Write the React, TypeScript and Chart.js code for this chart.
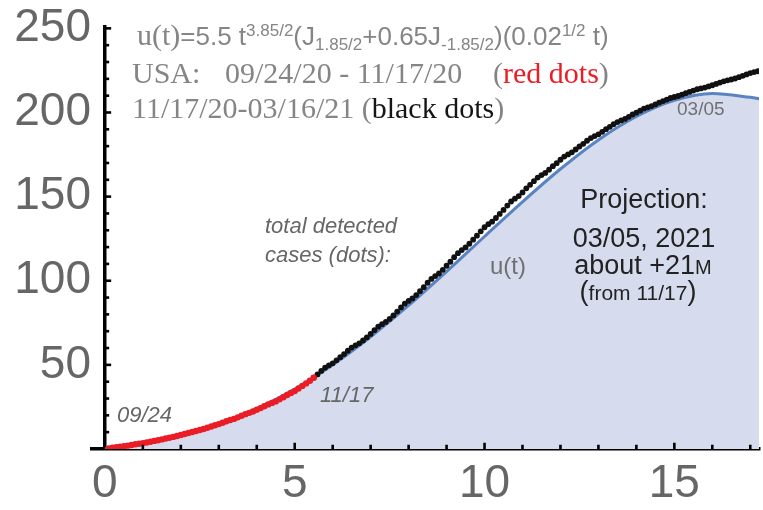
import { useEffect, useRef } from 'react';
import { Chart, registerables } from 'chart.js';

Chart.register(...registerables);

// ---- data ----
const uT = [0, 0.5, 1, 1.5, 2, 3, 4, 5, 6, 7, 8, 9, 10, 11, 12, 13, 14, 15, 16, 17, 17.3];
const uValues = [0, 1.7, 3.5, 5.7, 8.3, 14.9, 24.0, 35.7, 50.0, 66.7, 85.3, 105.4, 126.3, 146.9, 166.4, 183.7, 197.6, 207.2, 211.3, 209.0, 208.0];

// total detected cases (units of 100k, relative to 09/24/20), one per day
const redCases = [
  0.3, 0.7, 1.0, 1.3, 1.6, 2.0, 2.4, 2.8, 3.1, 3.5,
  3.9, 4.3, 4.8, 5.2, 5.7, 6.2, 6.7, 7.2, 7.7, 8.3,
  8.9, 9.5, 10.1, 10.7, 11.3, 11.9, 12.6, 13.4, 14.1, 14.8,
  15.6, 16.5, 17.2, 17.9, 18.8, 19.8, 20.7, 21.5, 22.3, 23.3,
  24.3, 25.4, 26.5, 27.4, 28.3, 29.5, 30.8, 32.1, 33.3, 34.4,
  36.0, 37.5, 39.0, 40.6, 42.4,
];
const blackCases = [
  42.4,
  44.3, 46.4, 48.3, 49.7, 50.9, 52.7, 54.6,
  56.4, 58.4, 60.3, 61.6, 62.8, 64.5, 66.3,
  68.4, 70.6, 72.7, 74.2, 75.5, 77.3, 79.4,
  81.7, 84.1, 86.4, 88.0, 89.5, 91.5, 93.8,
  96.2, 98.8, 101.1, 102.8, 104.3, 106.5, 108.9,
  111.3, 114.0, 116.4, 118.2, 119.8, 122.0, 124.4,
  126.8, 129.4, 131.8, 133.6, 135.1, 137.3, 139.7,
  142.1, 144.7, 147.1, 148.8, 150.3, 152.5, 154.9,
  157.0, 159.2, 161.3, 162.8, 164.1, 166.0, 168.1,
  169.9, 171.9, 173.8, 175.1, 176.3, 178.0, 179.8,
  181.4, 183.2, 184.8, 186.0, 187.0, 188.5, 190.1,
  191.5, 193.0, 194.3, 195.3, 196.2, 197.4, 198.8,
  199.9, 201.1, 202.3, 203.1, 203.8, 204.8, 205.9,
  206.8, 207.7, 208.6, 209.2, 209.8, 210.6, 211.5,
  212.2, 213.0, 213.8, 214.3, 214.8, 215.5, 216.2,
  217.0, 217.8, 218.5, 219.1, 219.6, 220.2, 221.0,
  221.8, 222.6, 223.4, 224.0, 224.5, 225.2, 226.0,
];
const RED_START_DAY = 0;
const BLACK_START_DAY = 54;
const DAYS_PER_UNIT = 10;
const FIRST_DAY_T = 0.1;

const xTickValues = [0, 5, 10, 15];
const xMinorValues = [1, 2, 3, 4, 6, 7, 8, 9, 11, 12, 13, 14, 16, 17];
const yTickValues = [50, 100, 150, 200, 250];
const yMinorValues = [10, 20, 30, 40, 60, 70, 80, 90, 110, 120, 130, 140, 160, 170, 180, 190, 210, 220, 230, 240];

const X_MIN = -0.34;
const X_MAX = 17.23;
const Y_MAX = 252;

// ---- styles ----
const SANS = '"Liberation Sans", Arial, sans-serif';
const SERIF = '"Liberation Serif", "Times New Roman", serif';
const AXIS_W = 3.5;
const GRAY_HEAD = '#858585';
const GRAY_LBL = '#666666';
const RED = '#ea1d26';

const toPoints = (vals: number[], startDay: number) =>
  vals.map((v, i) => ({ x: (startDay + i) / DAYS_PER_UNIT + FIRST_DAY_T, y: v }));

type Run = { t: string; font: string; color: string; dy?: number };

function drawRuns(ctx: CanvasRenderingContext2D, x: number, y: number, runs: Run[], align: 'left' | 'center' = 'left') {
  ctx.textAlign = 'left';
  ctx.textBaseline = 'alphabetic';
  let total = 0;
  for (const r of runs) { ctx.font = r.font; total += ctx.measureText(r.t).width; }
  let cx = align === 'center' ? x - total / 2 : x;
  for (const r of runs) {
    ctx.font = r.font;
    ctx.fillStyle = r.color;
    ctx.fillText(r.t, cx, y + (r.dy || 0));
    cx += ctx.measureText(r.t).width;
  }
}

const ticksPlugin = {
  id: 'inwardTicks',
  afterDraw(chart: any) {
    const { ctx, scales } = chart;
    const xs = scales.x, ys = scales.y;
    const x0 = xs.getPixelForValue(0);
    const y0 = ys.getPixelForValue(0);
    ctx.save();
    ctx.strokeStyle = '#000';
    ctx.lineWidth = 2.6;
    const xt = (v: number, len: number) => {
      const p = xs.getPixelForValue(v);
      ctx.beginPath(); ctx.moveTo(p, y0); ctx.lineTo(p, y0 - AXIS_W / 2 - len); ctx.stroke();
    };
    const yt = (v: number, len: number) => {
      const p = ys.getPixelForValue(v);
      ctx.beginPath(); ctx.moveTo(x0, p); ctx.lineTo(x0 + AXIS_W / 2 + len, p); ctx.stroke();
    };
    xMinorValues.forEach(v => xt(v, 2.5));
    xTickValues.filter(v => v !== 0).forEach(v => xt(v, 4.5));
    yMinorValues.forEach(v => yt(v, 2.5));
    yTickValues.forEach(v => yt(v, 4.5));
    ctx.restore();
  },
};

const textPlugin = {
  id: 'annotations',
  afterDraw(chart: any) {
    const ctx: CanvasRenderingContext2D = chart.ctx;
    ctx.save();
    const s26 = `26px ${SANS}`;
    const s17 = `17px ${SANS}`;
    drawRuns(ctx, 137, 45, [
      { t: 'u(t)', font: `30px ${SERIF}`, color: GRAY_HEAD },
      { t: '=5.5 t', font: s26, color: GRAY_HEAD },
      { t: '3.85/2', font: s17, color: GRAY_HEAD, dy: -9 },
      { t: '(J', font: s26, color: GRAY_HEAD },
      { t: '1.85/2', font: s17, color: GRAY_HEAD, dy: 5 },
      { t: '+0.65J', font: s26, color: GRAY_HEAD },
      { t: '-1.85/2', font: s17, color: GRAY_HEAD, dy: 5 },
      { t: ')(0.02', font: s26, color: GRAY_HEAD },
      { t: '1/2', font: s17, color: GRAY_HEAD, dy: -9 },
      { t: ' t)', font: s26, color: GRAY_HEAD },
    ]);
    const serif = `30px ${SERIF}`;
    drawRuns(ctx, 132, 83, [{ t: 'USA:', font: serif, color: GRAY_HEAD }]);
    drawRuns(ctx, 225, 83, [{ t: '09/24/20 - 11/17/20', font: serif, color: GRAY_HEAD }]);
    drawRuns(ctx, 493, 83, [
      { t: '(', font: serif, color: GRAY_HEAD },
      { t: 'red dots', font: serif, color: RED },
      { t: ')', font: serif, color: GRAY_HEAD },
    ]);
    drawRuns(ctx, 132, 118, [
      { t: '11/17/20-03/16/21 (', font: serif, color: GRAY_HEAD },
      { t: 'black dots', font: serif, color: '#151515' },
      { t: ')', font: serif, color: GRAY_HEAD },
    ]);

    const it = `italic 22px ${SANS}`;
    drawRuns(ctx, 117, 422, [{ t: '09/24', font: it, color: GRAY_LBL }]);
    drawRuns(ctx, 320, 402, [{ t: '11/17', font: it, color: GRAY_LBL }]);
    drawRuns(ctx, 265, 233, [{ t: 'total detected', font: it, color: GRAY_LBL }]);
    drawRuns(ctx, 265, 262, [{ t: 'cases (dots):', font: it, color: GRAY_LBL }]);
    drawRuns(ctx, 490, 274, [{ t: 'u(t)', font: `24px ${SANS}`, color: '#707070' }]);
    drawRuns(ctx, 677, 115, [{ t: '03/05', font: `19px ${SANS}`, color: '#707070' }]);

    const dark = '#222222';
    const p27 = `27px ${SANS}`;
    drawRuns(ctx, 644, 208, [{ t: 'Projection:', font: p27, color: dark }], 'center');
    drawRuns(ctx, 644, 247, [{ t: '03/05, 2021', font: p27, color: dark }], 'center');
    drawRuns(ctx, 643, 274, [
      { t: 'about +21', font: p27, color: dark },
      { t: 'M', font: `20px ${SANS}`, color: dark },
    ], 'center');
    drawRuns(ctx, 638, 300, [
      { t: '(', font: p27, color: dark },
      { t: 'from 11/17', font: `21px ${SANS}`, color: dark },
      { t: ')', font: p27, color: dark },
    ], 'center');
    ctx.restore();
  },
};

export default function App() {
  const ref = useRef<HTMLCanvasElement>(null);
  useEffect(() => {
    if (!ref.current) return;
    const chart = new Chart(ref.current, {
      type: 'line',
      data: {
        datasets: [
          {
            label: 'red dots',
            data: toPoints(redCases, RED_START_DAY),
            showLine: false,
            pointRadius: 3.2,
            pointBorderWidth: 0,
            pointBackgroundColor: RED,
            pointBorderColor: RED,
          },
          {
            label: 'black dots',
            data: toPoints(blackCases, BLACK_START_DAY),
            showLine: false,
            pointRadius: 2.9,
            pointBorderWidth: 0,
            pointBackgroundColor: '#111111',
            pointBorderColor: '#111111',
          },
          {
            label: 'u(t)',
            data: uT.map((t, i) => ({ x: t, y: uValues[i] })),
            borderColor: '#5a84c0',
            borderWidth: 3,
            pointRadius: 0,
            cubicInterpolationMode: 'monotone',
            fill: 'origin',
            backgroundColor: 'rgb(214,220,237)',
          },
        ],
      },
      options: {
        responsive: false,
        animation: false,
        devicePixelRatio: 1,
        layout: { padding: { left: 0, right: 1, top: 25, bottom: 0 } },
        plugins: { legend: { display: false }, tooltip: { enabled: false } },
        events: [],
        scales: {
          x: {
            type: 'linear',
            min: X_MIN,
            max: X_MAX,
            position: 'bottom',
            z: 1,
            grid: {
              display: true,
              drawOnChartArea: true,
              drawTicks: false,
              // the vertical axis line sits at x = 0
              color: (c: any) => (c.tick && c.tick.value === 0 ? '#000' : 'rgba(0,0,0,0)'),
              lineWidth: (c: any) => (c.tick && c.tick.value === 0 ? AXIS_W : 0),
            },
            border: { display: true, color: '#000', width: AXIS_W },
            ticks: {
              color: GRAY_LBL,
              font: { size: 46, family: SANS },
              padding: 8,
              autoSkip: false,
              maxRotation: 0,
              callback: (v: any) => String(v),
            },
            afterBuildTicks: (s: any) => { s.ticks = xTickValues.map(value => ({ value })); },
            afterFit: (s: any) => { s.height = 61; s.paddingLeft = 0; s.paddingRight = 0; },
          },
          y: {
            type: 'linear',
            min: 0,
            max: Y_MAX,
            position: 'left',
            z: 1,
            grid: { display: false, drawOnChartArea: false, drawTicks: false },
            border: { display: false },
            ticks: {
              color: GRAY_LBL,
              font: { size: 46, family: SANS },
              padding: 1,
              autoSkip: false,
              callback: (v: any) => String(v),
            },
            afterBuildTicks: (s: any) => { s.ticks = yTickValues.map(value => ({ value })); },
            afterFit: (s: any) => { s.width = 92; s.paddingTop = 0; s.paddingBottom = 0; },
          },
        } as any,
      },
      plugins: [ticksPlugin, textPlugin],
    } as any);
    return () => chart.destroy();
  }, []);
  return (
    <div style={{ position: 'absolute', left: 0, top: 0, width: 763, height: 510, background: '#fff' }}>
      <canvas ref={ref} width={763} height={510} style={{ display: 'block', width: 763, height: 510 }} />
    </div>
  );
}
